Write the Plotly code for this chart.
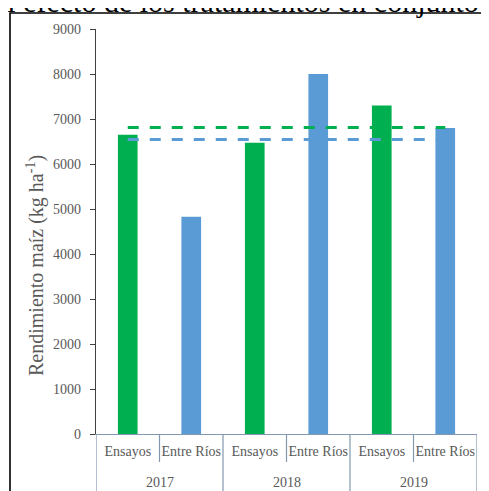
import plotly.graph_objects as go

years = ["2017", "2018", "2019"]
groups = ["Ensayos", "Entre Ríos", "Ensayos", "Entre Ríos", "Ensayos", "Entre Ríos"]
rendimiento = [6650, 4830, 6470, 8000, 7300, 6800]
bar_colors = ["#00b050", "#5b9bd5", "#00b050", "#5b9bd5", "#00b050", "#5b9bd5"]
promedio_ensayos = [6810, 6810, 6810, 6810, 6810, 6810]
promedio_entre_rios = [6545, 6545, 6545, 6545, 6545, 6545]
y_ticks = [0, 1000, 2000, 3000, 4000, 5000, 6000, 7000, 8000, 9000]

OFF = 8  # page body margin
W, H = 481, 483
L, T = 88, 21
pw = 469 - L
ph = 405
R = W - L - pw
B = H - T - ph

def px_x(p):  # page pixel -> paper x
    return (p - OFF - L) / pw

def px_y(p):  # page pixel -> paper y
    return (T + ph - (p - OFF)) / ph

serif = "Liberation Serif"
grey = "#595959"
axis_blue = "#8497b0"

idx = list(range(len(groups)))
per_group = len(groups) // len(years)

fig = go.Figure()
fig.add_trace(go.Bar(
    x=idx, y=rendimiento,
    marker=dict(color=bar_colors, line=dict(width=0)),
    width=0.31, showlegend=False,
))
fig.add_trace(go.Scatter(
    x=idx, y=promedio_ensayos, mode="lines",
    line=dict(color="#00b050", width=3, dash="11px,11px"), showlegend=False,
))
fig.add_trace(go.Scatter(
    x=idx, y=promedio_entre_rios, mode="lines",
    line=dict(color="#5b9bd5", width=3, dash="11px,11px"), showlegend=False,
))

shapes = []
# category boundaries below the axis
for k in range(len(groups) + 1):
    xb = k - 0.5
    is_group = (k % per_group == 0)
    shapes.append(dict(
        type="line", xref="x", yref="paper",
        x0=xb, x1=xb, y0=0, y1=px_y(530 if is_group else 462),
        line=dict(color=axis_blue, width=1.2),
    ))
# outer frame
shapes.append(dict(
    type="rect", xref="paper", yref="paper",
    x0=px_x(10), x1=px_x(530), y0=px_y(530), y1=px_y(13),
    line=dict(color="black", width=1.6), fillcolor="rgba(0,0,0,0)",
))

annotations = []
for g, yr in enumerate(years):
    annotations.append(dict(
        text=yr, xref="x", yref="paper",
        x=g * per_group + (per_group - 1) / 2, y=px_y(483),
        xanchor="center", yanchor="middle", showarrow=False,
        font=dict(family=serif, color=grey, size=14),
    ))
annotations.append(dict(
    text="Rendimiento maíz (kg ha<sup>-1</sup>)",
    xref="paper", yref="paper", x=px_x(35), y=px_y(266),
    xanchor="center", yanchor="middle", textangle=-90, showarrow=False,
    font=dict(family=serif, color=grey, size=20),
))
annotations.append(dict(
    text="el efecto de los tratamientos en conjunto",
    xref="paper", yref="paper", x=px_x(-8), y=px_y(20),
    xanchor="left", yanchor="bottom", showarrow=False,
    font=dict(family=serif, color="black", size=30),
))

fig.update_layout(
    width=W, height=H,
    margin=dict(l=L, r=R, t=T, b=B, autoexpand=False),
    plot_bgcolor="white", paper_bgcolor="white",
    font=dict(family=serif, color=grey, size=14),
    xaxis=dict(
        range=[-0.5, len(groups) - 0.5],
        tickvals=idx, ticktext=groups, ticks="",
        showline=True, linecolor=axis_blue, linewidth=1.2,
        tickfont=dict(family=serif, color=grey, size=14),
        ticklabelstandoff=4,
        showgrid=False, zeroline=False,
    ),
    yaxis=dict(
        range=[0, 9000], tickvals=y_ticks,
        showline=True, linecolor="#404040", linewidth=1.2,
        ticks="outside", ticklen=5, tickcolor="#404040",
        showgrid=False, zeroline=False,
        tickfont=dict(family=serif, color=grey, size=14),
        ticklabelstandoff=6,
    ),
    shapes=shapes,
    annotations=annotations,
)

fig.write_html("out.html")
